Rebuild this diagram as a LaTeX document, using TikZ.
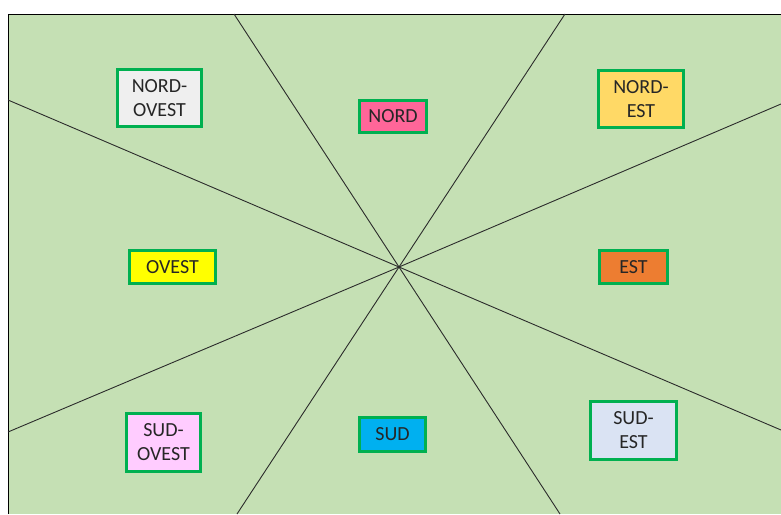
\documentclass[tikz,border=0pt]{standalone}
\usepackage{fontspec}
\setmainfont{Carlito}
\definecolor{bggreen}{HTML}{C5E0B4}
\definecolor{boxgreen}{HTML}{00B050}
\definecolor{linegray}{HTML}{2B2B2B}
\definecolor{cNO}{HTML}{EFEFEF}
\definecolor{cNE}{HTML}{FFD966}
\definecolor{cN}{HTML}{FF6699}
\definecolor{cO}{HTML}{FFFF00}
\definecolor{cE}{HTML}{ED7D31}
\definecolor{cS}{HTML}{00B0F0}
\definecolor{cSO}{HTML}{FFCCFF}
\definecolor{cSE}{HTML}{DAE3F3}
\begin{document}
\begin{tikzpicture}[x=1pt,y=-1pt,
  dirbox/.style={draw=boxgreen, line width=3.2pt, rectangle, inner sep=0pt,
    align=center, text=black!85, font=\fontsize{20}{24}\selectfont},
  ray/.style={draw=linegray, line width=0.9pt}]
\useasboundingbox (0,0) rectangle (781,514);
\fill[bggreen] (8,14) rectangle (781,514);
\draw[black, line width=1pt] (8,514) -- (8,14) -- (781,14);
% rays
\coordinate (c) at (399,267);
\coordinate (t1) at (234,14);
\coordinate (b1) at (560,514);
\coordinate (t2) at (565,14);
\coordinate (b2) at (237,514);
\coordinate (l1) at (8,100);
\coordinate (r1) at (781,430);
\coordinate (r2) at (781,104);
\coordinate (l2) at (8,432);
\draw[ray] (t1) -- (c) -- (b1);
\draw[ray] (t2) -- (c) -- (b2);
\draw[ray] (l1) -- (c) -- (r1);
\draw[ray] (r2) -- (c) -- (l2);
% boxes
\node[dirbox, fill=cNO, minimum width=84, minimum height=57] (no) at (159.5,98) {NORD-\\OVEST};
\node[dirbox, fill=cNE, minimum width=85, minimum height=57] (ne) at (641,99) {NORD-\\EST};
\node[dirbox, fill=cN, minimum width=67, minimum height=32] (n) at (393,116.5) {NORD};
\node[dirbox, fill=cO, minimum width=86, minimum height=33] (o) at (172.5,267) {OVEST};
\node[dirbox, fill=cE, minimum width=68, minimum height=33] (e) at (633.5,267) {EST};
\node[dirbox, fill=cS, minimum width=66, minimum height=34] (s) at (392.5,434.5) {SUD};
\node[dirbox, fill=cSO, minimum width=74, minimum height=58] (so) at (163.5,442.5) {SUD-\\OVEST};
\node[dirbox, fill=cSE, minimum width=86, minimum height=58] (se) at (633.5,430.5) {SUD-\\EST};
\end{tikzpicture}
\end{document}
